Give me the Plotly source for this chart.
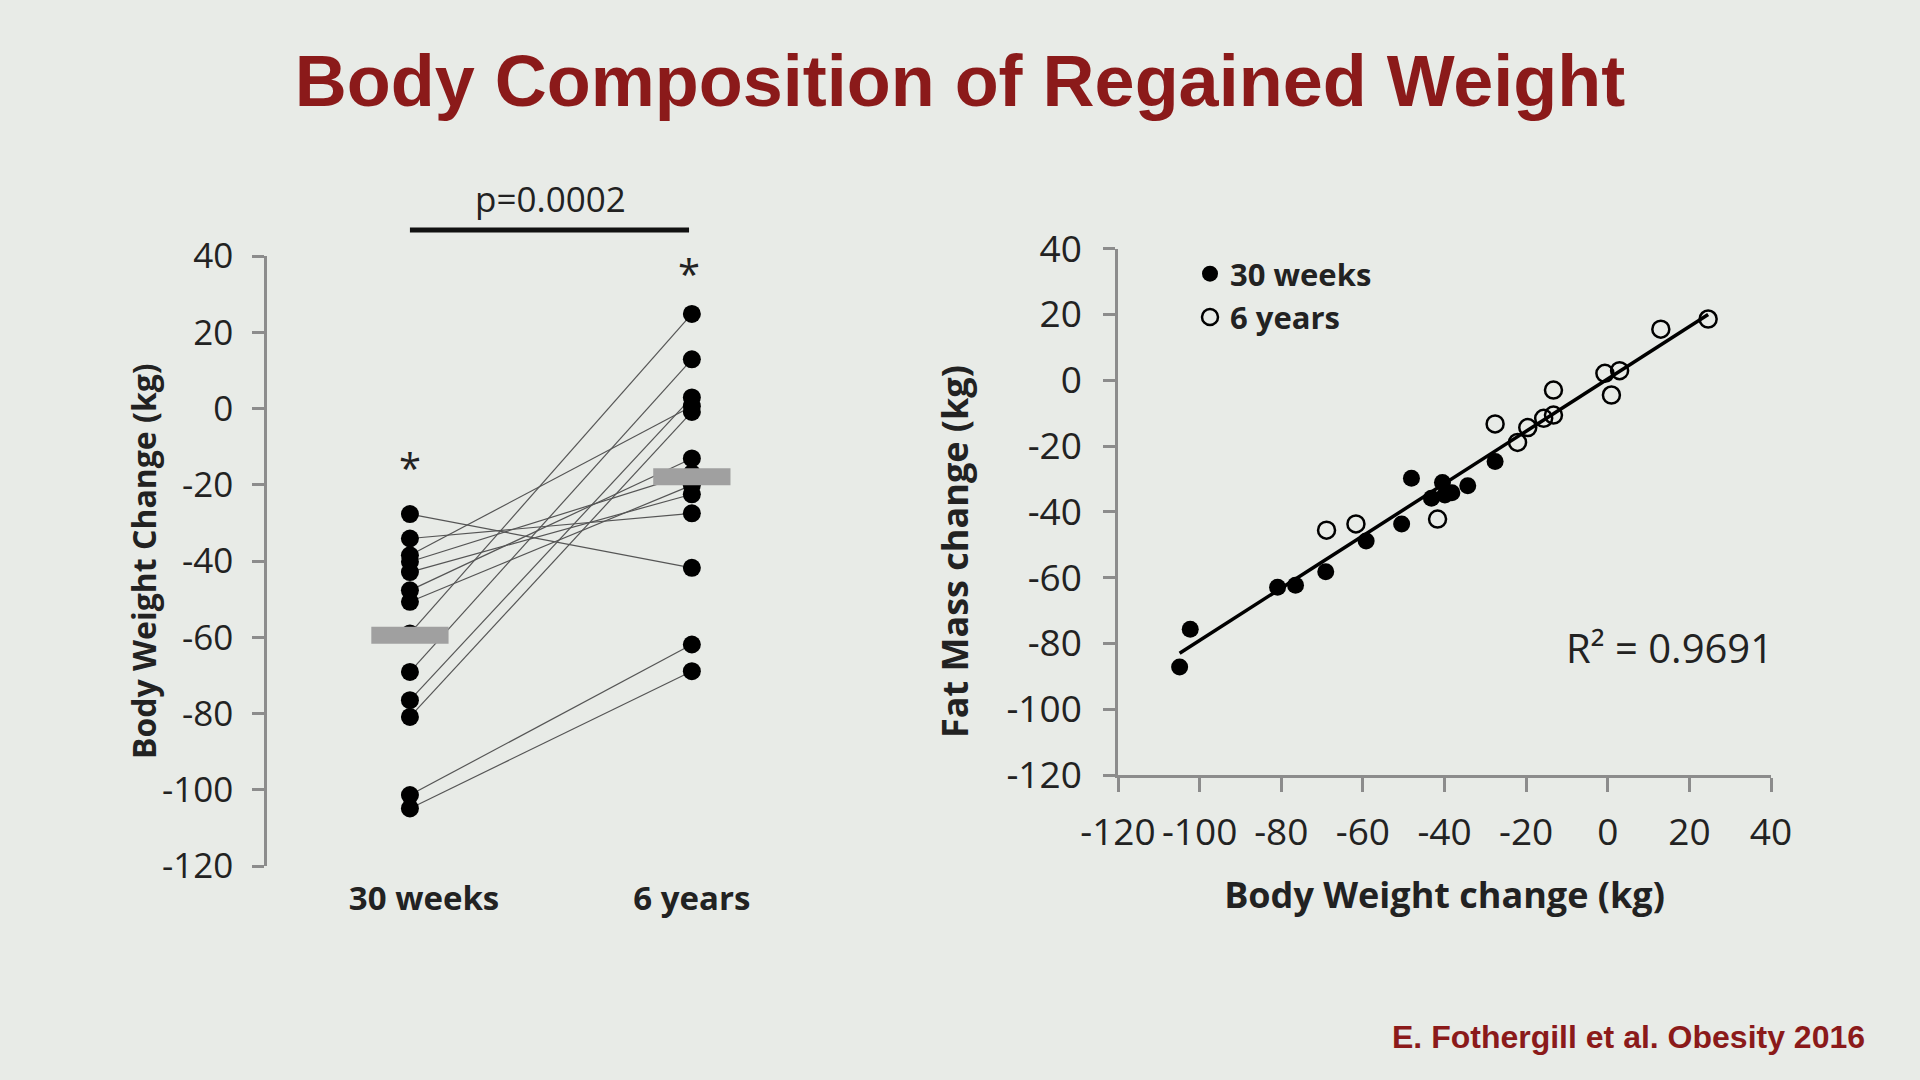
import numpy as np
import plotly.graph_objects as go

# left panel: body weight change (kg), paired per participant
weeks30 = [-27.7, -34.1, -38.5, -40.2, -42.9, -47.7, -50.7, -59.0, -69.1, -76.5, -80.9, -101.4, -104.9]
years6 = [-41.8, -27.5, 0.6, -17.0, -22.5, -13.1, -20.1, 24.8, 12.9, 2.9, -0.9, -61.9, -68.9]
groups = ["30 weeks", "6 years"]

# right panel: body weight change vs fat mass change (kg)
bw_30w = [-104.9, -102.3, -80.9, -76.5, -69.1, -59.2, -50.5, -48.1, -43.2, -40.5, -39.9, -38.2, -34.3, -27.6]
fm_30w = [-87.2, -75.7, -62.9, -62.3, -58.2, -48.9, -43.7, -29.8, -35.9, -31.1, -34.9, -34.2, -32.1, -24.7]
bw_6y = [-68.9, -61.7, -41.7, -27.6, -22.1, -19.6, -15.7, -13.3, -13.3, -0.7, 0.9, 2.9, 13.0, 24.6]
fm_6y = [-45.6, -43.7, -42.2, -13.3, -18.9, -14.4, -11.6, -10.6, -3.0, 2.1, -4.5, 2.9, 15.5, 18.6]
ticks = list(range(-120, 41, 20))
r2_text = "R² = 0.9691"
p_text = "p=0.0002"

BG = "#e8ebe7"
AXIS = "#8c8c8c"
RED = "#8b1a1a"
INK = "#222222"
FONT = "Open Sans"
W, H = 1920, 1080


def px(x):
    return x / W


def py(y):
    return 1 - y / H


fig = go.Figure()

# paired lines
lx, ly = [], []
for a, b in zip(weeks30, years6):
    lx += [0, 1, None]
    ly += [a, b, None]
fig.add_trace(go.Scatter(x=lx, y=ly, mode="lines", line=dict(color="#555555", width=1.2),
                         showlegend=False, hoverinfo="skip", xaxis="x", yaxis="y"))

fig.add_trace(go.Scatter(x=[0] * len(weeks30) + [1] * len(years6), y=weeks30 + years6,
                         mode="markers", marker=dict(color="black", size=18),
                         showlegend=False, xaxis="x", yaxis="y"))

# group means
half = 0.137
for i, vals in enumerate([weeks30, years6]):
    m = float(np.mean(vals))
    fig.add_trace(go.Scatter(x=[i - half, i + half], y=[m, m], mode="lines",
                             line=dict(color="#a0a0a0", width=17),
                             showlegend=False, xaxis="x", yaxis="y"))

# right scatter
fig.add_trace(go.Scatter(x=bw_30w, y=fm_30w, mode="markers", name="30 weeks",
                         marker=dict(color="black", size=17), xaxis="x2", yaxis="y2"))
fig.add_trace(go.Scatter(x=bw_6y, y=fm_6y, mode="markers", name="6 years",
                         marker=dict(symbol="circle-open", color="black", size=17,
                                     line=dict(width=2.5)),
                         xaxis="x2", yaxis="y2"))

all_x = np.array(bw_30w + bw_6y)
all_y = np.array(fm_30w + fm_6y)
k, c = np.polyfit(all_x, all_y, 1)
xs = np.array([all_x.min(), all_x.max()])
fig.add_trace(go.Scatter(x=xs, y=k * xs + c, mode="lines", line=dict(color="black", width=3.5),
                         showlegend=False, hoverinfo="skip", xaxis="x2", yaxis="y2"))

axis_common = dict(showgrid=False, zeroline=False, linecolor=AXIS, linewidth=2.5,
                   tickcolor=AXIS, tickwidth=2.5, ticks="outside", automargin=False,
                   tickangle=0, tickvals=ticks, ticktext=[str(t) for t in ticks])

fig.update_layout(
    width=W, height=H,
    margin=dict(l=0, r=0, t=0, b=0, autoexpand=False),
    paper_bgcolor=BG, plot_bgcolor=BG,
    font=dict(family=FONT, color=INK),
    title=dict(text="<b>Body Composition of Regained Weight</b>", x=0.5, y=py(81),
               xanchor="center", yanchor="middle", automargin=False,
               font=dict(family="Liberation Sans, Arial", size=72, color=RED)),
    xaxis=dict(domain=[px(267), px(830)], range=[-0.507, 1.49], showgrid=False,
               zeroline=False, showline=False, tickvals=[0.05, 1.0], automargin=False,
               ticktext=[f"<b>{g}</b>" for g in groups], ticks="",
               ticklabelstandoff=10, tickfont=dict(size=33)),
    yaxis=dict(domain=[py(866), py(256)], range=[-120, 40], showline=True, ticklen=12,
               ticklabelstandoff=12, tickfont=dict(size=35), **axis_common),
    xaxis2=dict(domain=[px(1118), px(1771)], range=[-120, 40], anchor="y2",
                showline=True, ticklen=14, ticklabelstandoff=9, tickfont=dict(size=37),
                title=dict(text="<b>Body Weight change (kg)</b>", font=dict(size=36), standoff=28),
                **axis_common),
    yaxis2=dict(domain=[py(775), py(248.6)], range=[-120, 40], anchor="x2",
                showline=True, ticklen=12, ticklabelstandoff=14, tickfont=dict(size=37),
                **axis_common),
    legend=dict(x=px(1190), y=py(247), xanchor="left", yanchor="top",
                bgcolor="rgba(0,0,0,0)", font=dict(size=31, color=INK, weight="bold"),
                itemsizing="trace", tracegroupgap=0),
)

# significance bracket
fig.add_shape(type="line", xref="x", yref="paper", x0=0, x1=0.99,
              y0=py(230), y1=py(230), line=dict(color="#111111", width=5))

notes = [
    dict(text=p_text, xref="x", yref="paper", x=0.5, y=py(198), font=dict(size=35)),
    dict(text="*", xref="x", yref="y", x=0, y=-15.5, font=dict(size=40)),
    dict(text="*", xref="x", yref="y", x=0.99, y=35.5, font=dict(size=40)),
    dict(text="<b>Body Weight Change (kg)</b>", xref="paper", yref="paper",
         x=px(143), y=py(561), textangle=-90, font=dict(size=32)),
    dict(text="<b>Fat Mass change (kg)</b>", xref="paper", yref="paper",
         x=px(954), y=py(552), textangle=-90, font=dict(size=36)),
    dict(text=r2_text, xref="paper", yref="paper", x=px(1669), y=py(647), font=dict(size=40)),
]
for n in notes:
    n["font"]["color"] = INK
    fig.add_annotation(showarrow=False, xanchor="center", yanchor="middle", **n)

fig.add_annotation(text="<b>E. Fothergill et al. Obesity 2016</b>", xref="paper", yref="paper",
                   x=px(1867), y=py(1037), xanchor="right", yanchor="middle", showarrow=False,
                   font=dict(family="Liberation Sans, Arial", size=32, color=RED))

fig.write_html("out.html", config={"displayModeBar": False}, post_script=(
    "document.body.style.margin='0';document.body.style.overflow='hidden';"
    "document.body.style.background='" + BG + "';"))
